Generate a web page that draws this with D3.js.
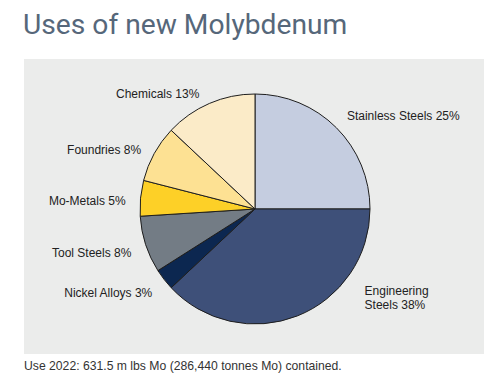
<!DOCTYPE html>
<html>
<head>
<meta charset="utf-8">
<script src="https://cdn.jsdelivr.net/npm/d3@7"></script>
<style>
  body { margin: 0; background: #fff; }
  svg { display: block; }
</style>
</head>
<body>
<svg id="chart" width="488" height="380"></svg>
<script>
// data (clockwise from 12 o'clock)
var categories = ["Stainless Steels", "Engineering Steels", "Nickel Alloys", "Tool Steels", "Mo-Metals", "Foundries", "Chemicals"];
var shares = [25, 38, 3, 8, 5, 8, 13];
var colours = ["#c5cde0", "#3e5079", "#0c2750", "#737c85", "#fdd027", "#fde193", "#fbebc8"];
var title = "Uses of new Molybdenum";
var footnote = "Use 2022: 631.5 m lbs Mo (286,440 tonnes Mo) contained.";

var svg = d3.select("#chart");

// title
svg.append("text")
    .attr("x", 23)
    .attr("y", 34)
    .attr("font-family", "Roboto")
    .attr("font-size", 28.2)
    .attr("fill", "#56677a")
    .text(title);

// grey panel
svg.append("rect")
    .attr("x", 24).attr("y", 59)
    .attr("width", 460).attr("height", 295)
    .attr("fill", "#ebeceb");

var cx = 255, cy = 209, r = 115;
var g = svg.append("g").attr("transform", "translate(" + cx + "," + cy + ")");

var data = categories.map(function(c, i) { return {name: c, value: shares[i], colour: colours[i]}; });

var pie = d3.pie()
    .sort(null)
    .value(function(d) { return d.value; });

var arc = d3.arc().innerRadius(0).outerRadius(r);

var arcs = pie(data);

g.selectAll("path")
    .data(arcs)
  .enter().append("path")
    .attr("d", arc)
    .attr("fill", function(d) { return d.data.colour; })
    .attr("stroke", "#1e1e1e")
    .attr("stroke-width", 1)
    .attr("stroke-linejoin", "round");

// labels sit just outside the slice middle; engineering one is pushed round a bit
var labelR = 130;
g.selectAll("text.lbl")
    .data(arcs)
  .enter().append("text")
    .attr("class", "lbl")
    .each(function(d) {
      var a = (d.startAngle + d.endAngle) / 2;
      var rr = labelR;
      if (d.data.name == "Engineering Steels") { a = 129 * Math.PI / 180; rr = 141; }
      var x = Math.sin(a) * rr, y = -Math.cos(a) * rr;
      if (d.data.name == "Chemicals") x -= 4;
      var t = d3.select(this)
        .attr("font-family", "Liberation Sans, Arial, sans-serif")
        .attr("font-size", 12)
        .attr("fill", "#222")
        .attr("text-anchor", x < 0 ? "end" : "start");
      var txt = d.data.name + " " + d.data.value + "%";
      if (d.data.name == "Engineering Steels") {
        t.append("tspan").attr("x", x).attr("y", y - 3).text("Engineering");
        t.append("tspan").attr("x", x).attr("y", y + 11).text("Steels " + d.data.value + "%");
      } else {
        t.attr("x", x).attr("y", y + (x < 0 ? 8 : 3)).text(txt);
      }
    });

svg.append("text")
    .attr("x", 24)
    .attr("y", 370)
    .attr("font-family", "Liberation Sans, Arial, sans-serif")
    .attr("font-size", 12.2)
    .attr("fill", "#333")
    .text(footnote);
</script>
</body>
</html>
